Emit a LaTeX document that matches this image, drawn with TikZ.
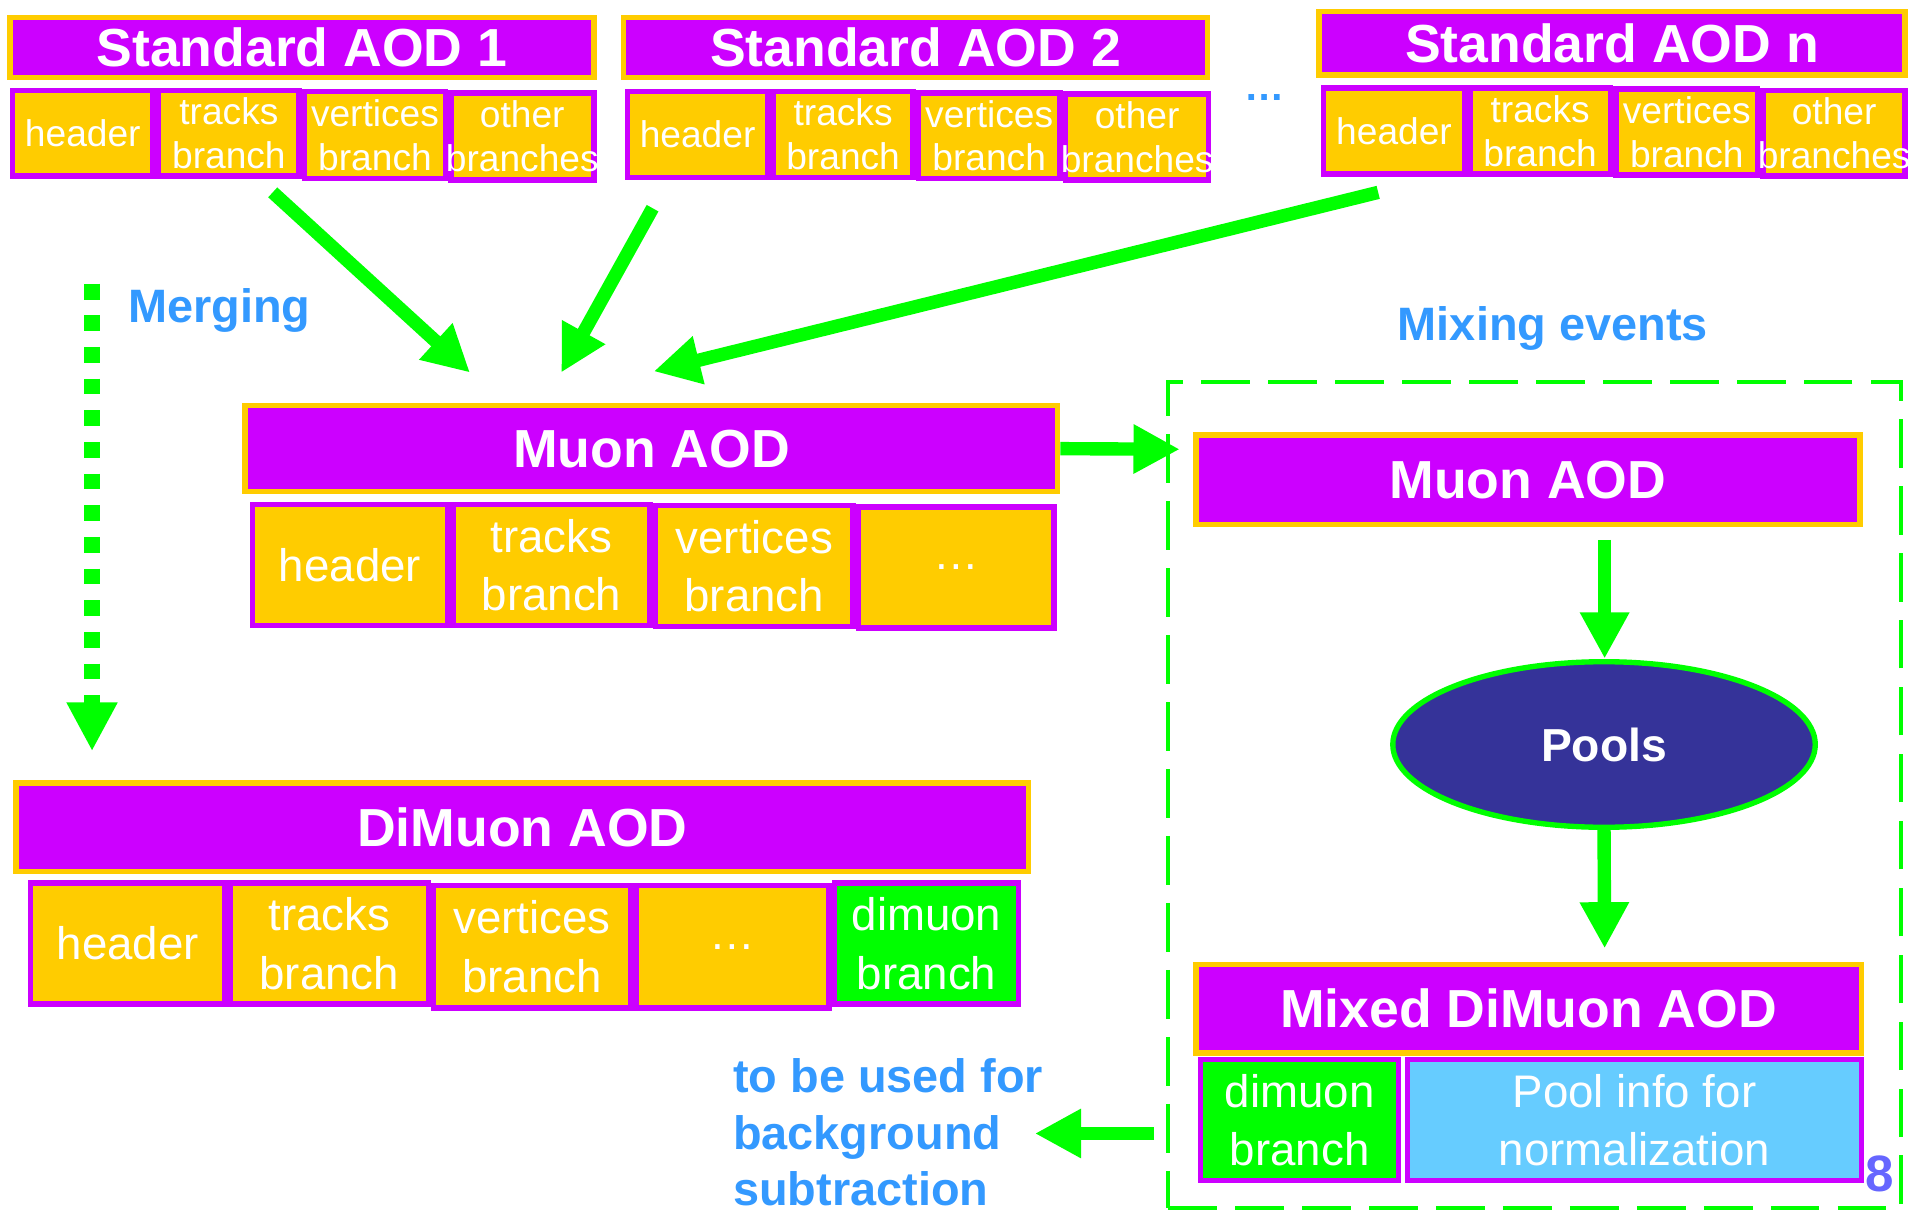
\documentclass[tikz,border=0pt]{standalone}
\usepackage{fontspec}
\setmainfont{Liberation Sans}
\usetikzlibrary{arrows.meta,shapes.geometric}
\definecolor{apurple}{RGB}{204,0,255}
\definecolor{aorange}{RGB}{255,204,0}
\definecolor{agreen}{RGB}{0,255,0}
\definecolor{ablue}{RGB}{51,153,255}
\definecolor{apool}{RGB}{53,51,153}
\definecolor{alight}{RGB}{102,204,255}
\definecolor{aeight}{RGB}{102,102,255}
% name, box style, x1, y1, x2, y2, text style, text
\newcommand\bx[8]{%
  \node[#2, minimum width={#5-#3-4.5}, minimum height={#6-#4-4.5}] (#1) at ({(#3+#5)/2},{(#4+#6)/2}) {};
  \node[#7] (#1-t) at (#1.center) {#8};}
\tikzset{
  titlebox/.style={draw=aorange, fill=apurple, line width=4.5pt, inner sep=0pt},
  subbox/.style={draw=apurple, fill=aorange, line width=4.5pt, inner sep=0pt},
  greenbox/.style={subbox, fill=agreen},
  lightbox/.style={subbox, fill=alight},
  ttl/.style={text=white, font=\fontsize{44}{53}\selectfont\bfseries, inner sep=0pt},
  sml/.style={text=white, font=\fontsize{30.5}{36}\selectfont, align=center, inner sep=0pt},
  med/.style={text=white, font=\fontsize{37.5}{48}\selectfont, align=center, inner sep=0pt},
  bluetxt/.style={text=ablue, font=\fontsize{38.5}{47}\selectfont\bfseries, inner sep=0pt, anchor=base west},
  flow/.style={draw=agreen, line width=11pt, -{Triangle[length=38pt,width=38pt]}},
}
\begin{document}
\begin{tikzpicture}[x=1pt,y=-1pt]
\fill[white] (0,0) rectangle (1568,997);
\useasboundingbox (0,0) rectangle (1568,997);

% mixing frame
\node[draw=agreen, line width=3.5pt, dash pattern=on 40pt off 15pt, minimum width=601.8pt, minimum height=678.5pt, inner sep=0pt] (mixbox) at (1260.35,653) {};

% Standard AOD 1
\bx{a1}{titlebox}{6}{12}{490}{66}{ttl}{Standard AOD 1}
\bx{a1h}{subbox}{8}{72}{128}{147}{sml}{header}
\bx{a1tr}{subbox}{128}{72}{248}{147}{sml}{tracks\\branch}
\bx{a1v}{subbox}{248}{73}{368}{149}{sml}{vertices\\branch}
\bx{a1o}{subbox}{368}{74}{490}{150}{sml}{other\\branches}
% Standard AOD 2
\bx{a2}{titlebox}{510}{12}{994}{66}{ttl}{Standard AOD 2}
\bx{a2h}{subbox}{513}{73}{633}{148}{sml}{header}
\bx{a2tr}{subbox}{633}{73}{752}{148}{sml}{tracks\\branch}
\bx{a2v}{subbox}{752}{74}{873}{149}{sml}{vertices\\branch}
\bx{a2o}{subbox}{873}{75}{995}{150}{sml}{other\\branches}
% Standard AOD n
\bx{an}{titlebox}{1081}{7}{1567}{64}{ttl}{Standard AOD n}
\bx{anh}{subbox}{1085}{70}{1205}{145}{sml}{header}
\bx{antr}{subbox}{1205}{70}{1325}{145}{sml}{tracks\\branch}
\bx{anv}{subbox}{1325}{71}{1446}{146}{sml}{vertices\\branch}
\bx{ano}{subbox}{1446}{72}{1567}{147}{sml}{other\\branches}
\node[text=ablue, font=\fontsize{33}{40}\selectfont\bfseries, inner sep=0pt] (dots) at (1039,80) {…};

% Muon AOD
\bx{muon}{titlebox}{199}{331}{871}{406}{ttl}{Muon AOD}
\bx{muh}{subbox}{205}{412}{370}{516}{med}{header}
\bx{mutr}{subbox}{370}{412}{536}{516}{med}{tracks\\branch}
\bx{muv}{subbox}{536}{413}{703}{517}{med}{vertices\\branch}
\bx{mud}{subbox}{703}{414}{868}{518}{med}{…}

% DiMuon AOD
\bx{dimu}{titlebox}{11}{641}{847}{718}{ttl}{DiMuon AOD}
\bx{dih}{subbox}{23}{723}{187}{827}{med}{header}
\bx{ditr}{subbox}{187}{723}{354}{827}{med}{tracks\\branch}
\bx{div}{subbox}{354}{725}{520}{830}{med}{vertices\\branch}
\bx{did}{subbox}{520}{725}{683}{830}{med}{…}
\bx{didm}{greenbox}{683}{723}{839}{827}{med}{dimuon\\branch}

% Mixing part
\bx{mu2}{titlebox}{980}{355}{1530}{433}{ttl}{Muon AOD}
\node[ellipse, draw=agreen, fill=apool, line width=4.4pt, minimum width=347pt, minimum height=136pt, inner sep=0pt, text=white, font=\fontsize{38}{46}\selectfont\bfseries] (pools) at (1317.5,611.5) {Pools};
\bx{mix}{titlebox}{980}{790}{1531}{867}{ttl}{Mixed DiMuon AOD}
\bx{mixd}{greenbox}{984}{868}{1151}{972}{med}{dimuon\\branch}
\bx{mixp}{lightbox}{1154}{868}{1531}{972}{med}{Pool info for\\normalization}
\node[text=aeight, font=\fontsize{42}{50}\selectfont\bfseries, inner sep=0pt] (pagenum) at (1544,964) {8};

% texts
\node[bluetxt] (merging) at (105,265) {Merging};
\node[bluetxt] (mixing) at (1148,280) {Mixing events};
\node[bluetxt] (use1) at (602,897) {to be used for};
\node[bluetxt] (use2) at (602,944) {background};
\node[bluetxt] (use3) at (602,990) {subtraction};

% connector end points
\coordinate (s1) at (224,158);  \coordinate (e1) at (386,306);
\coordinate (s2) at (536,171);  \coordinate (e2) at (461,306);
\coordinate (s3) at (1132,158); \coordinate (e3) at (537,305);
\coordinate (mt) at (969,369);
\coordinate (ms) at (75.6,233); \coordinate (me) at (75.6,617);
\coordinate (ps) at (1318,443.5); \coordinate (pe) at (1318,541);
\coordinate (qe) at (1318,779);
\coordinate (bs) at (948,931); \coordinate (be) at (850,931);

\draw[flow] (s1) -- (e1);
\draw[flow] (s2) -- (e2);
\draw[flow] (s3) -- (e3);
\draw[flow] (muon.east) -- (mt);
\draw[flow] (ps) -- (pe);
\draw[flow] (pools.south) -- (qe);
\draw[flow] (bs) -- (be);
\draw[draw=agreen, line width=13pt, dash pattern=on 13pt off 13pt, -{Triangle[length=40pt,width=39pt]}] (ms) -- (me);
\end{tikzpicture}
\end{document}
